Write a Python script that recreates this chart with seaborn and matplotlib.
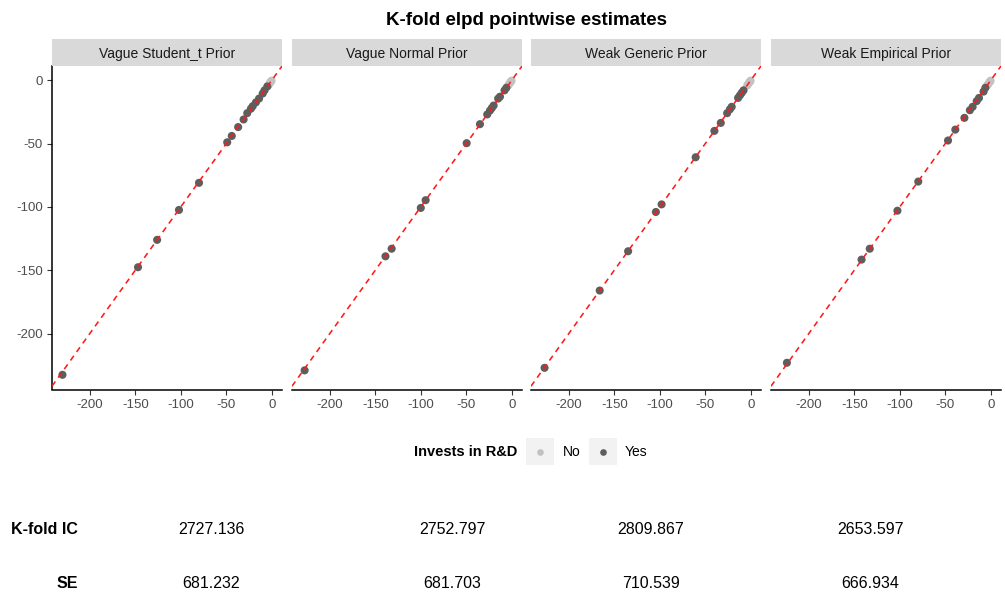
import numpy as np
import pandas as pd
import matplotlib
matplotlib.use("Agg")
import matplotlib.pyplot as plt
from matplotlib.patches import Rectangle
from matplotlib.lines import Line2D
import seaborn as sns

# ---------------- data ----------------
priors = ["Vague Student_t Prior", "Vague Normal Prior",
          "Weak Generic Prior", "Weak Empirical Prior"]

# "Yes" (invests in R&D) points: x = model elpd, y = k-fold elpd
p1_x_yes = [-230, -147, -126, -102, -80, -49, -44, -37, -31, -27, -23, -21, -17.5, -14, -10, -8, -5]
p1_y_yes = [-232.5, -147.6, -126, -102.4, -81, -49, -44, -37, -31, -26, -22.5, -20.5, -17.5, -14.5, -10.5, -8, -5]
p2_x_yes = [-227.6, -138.8, -132, -100, -94.7, -49.6, -35, -27, -24, -22, -20, -15, -13, -8, -6]
p2_y_yes = [-229, -139, -133, -100.8, -94.7, -49.7, -34.7, -27, -24, -22, -20, -14.5, -13, -8, -6]
p3_x_yes = [-226.6, -166, -134.8, -104.3, -98, -60.6, -40, -33, -26, -23, -21, -14, -12, -10, -8]
p3_y_yes = [-227, -166, -135, -104, -98, -60.8, -40, -33.7, -26, -23, -21, -14, -12, -10, -8]
p4_x_yes = [-224, -142, -133, -102.6, -79.7, -47, -39, -29, -23, -20, -15.5, -13, -8, -6]
p4_y_yes = [-223, -141.6, -133, -103, -80, -47.6, -39, -29.7, -23.7, -21, -16.5, -14, -9, -6]

# "No" points (cluster near zero)
no_x = [-4, -3, -2.2, -1.5, -0.8, -0.3]
no_y = [-4.2, -3.1, -2.3, -1.6, -0.9, -0.4]

kfold_ic = ["2727.136", "2752.797", "2809.867", "2653.597"]
kfold_se = ["681.232", "681.703", "710.539", "666.934"]
ticks = [-200, -150, -100, -50, 0]
tick_labels = ["-200", "-150", "-100", "-50", "0"]

legend_title = "Invests in R&D"
levels = ["No", "Yes"]
palette = {"No": "#c2c2c2", "Yes": "#5e5e5e"}

xs_yes = [p1_x_yes, p2_x_yes, p3_x_yes, p4_x_yes]
ys_yes = [p1_y_yes, p2_y_yes, p3_y_yes, p4_y_yes]

rows = []
for prior, xy, yy in zip(priors, xs_yes, ys_yes):
    for a, b in zip(no_x, no_y):
        rows.append((prior, a, b, "No"))
    for a, b in zip(xy, yy):
        rows.append((prior, a, b, "Yes"))
df = pd.DataFrame(rows, columns=["prior", "elpd", "kfold", "invest"])

# ---------------- figure ----------------
sns.set_theme(style="white")
plt.rcParams["font.family"] = ["Liberation Sans", "DejaVu Sans"]

W, H = 1005, 593
fig = plt.figure(figsize=(W / 100, H / 100), dpi=100)


def fx(px):
    return px / W


def fy(py):
    return 1 - py / H


# shared (fixed) scales with 5% expansion like ggplot
xmin, xmax = df["elpd"].min(), df["elpd"].max()
ymin, ymax = df["kfold"].min(), df["kfold"].max()
xpad = (xmax - xmin) * 0.05
ypad = (ymax - ymin) * 0.05

panel_left = [52, 292, 531, 771]
panel_w = 230
top, bottom = 66, 389.5
strip_top = 39

for i, prior in enumerate(priors):
    L = panel_left[i]
    ax = fig.add_axes([fx(L), fy(bottom), panel_w / W, (bottom - top) / H])
    sub = df[df["prior"] == prior]
    sns.scatterplot(data=sub, x="elpd", y="kfold", hue="invest",
                    hue_order=levels, palette=palette, s=34, linewidth=0,
                    legend=False, ax=ax, zorder=3)
    ax.axline((0, 0), slope=1, color="#ff1a1a", lw=1.15,
              linestyle=(0, (3.6, 3.0)), zorder=4)
    ax.set_xlim(xmin - xpad, xmax + xpad)
    ax.set_ylim(ymin - ypad, ymax + ypad)
    ax.set_xticks(ticks)
    ax.set_xticklabels(tick_labels)
    ax.set_yticks(ticks)
    ax.set_yticklabels(tick_labels)
    ax.set_xlabel("")
    ax.set_ylabel("")
    for s in ["top", "right"]:
        ax.spines[s].set_visible(False)
    ax.spines["bottom"].set_color("black")
    ax.spines["bottom"].set_linewidth(1.1)
    ax.spines["left"].set_color("black")
    ax.spines["left"].set_linewidth(1.1)
    ax.tick_params(axis="both", length=3.5, width=0.8, color="#333333",
                   labelcolor="#4d4d4d", labelsize=9.5, pad=3,
                   bottom=True, left=True)
    if i > 0:
        ax.spines["left"].set_visible(False)
        ax.tick_params(axis="y", left=False, labelleft=False)
    ax.grid(False)
    ax.set_facecolor("white")

    # strip
    fig.patches.append(Rectangle((fx(L), fy(top)), panel_w / W, (top - strip_top) / H,
                                 transform=fig.transFigure, facecolor="#d9d9d9",
                                 edgecolor="none", zorder=1))
    fig.text(fx(L + panel_w / 2), fy((top + strip_top) / 2), prior,
             ha="center", va="center_baseline", fontsize=10, color="#1a1a1a")

# title
fig.text(fx(526), fy(18.5), "K-fold elpd pointwise estimates", ha="center",
         va="center_baseline", fontsize=13.5, fontweight="bold", color="black")

# legend (manual, ggplot style)
ly = 451.5
fig.text(fx(517), fy(ly), legend_title, ha="right", va="center",
         fontsize=10.5, fontweight="bold", color="black")
key_x = [540, 603]
text_x = [562.5, 625]
for lev, kx, tx in zip(levels, key_x, text_x):
    fig.patches.append(Rectangle((fx(kx - 14), fy(ly + 13.5)), 28 / W, 27 / H,
                                 transform=fig.transFigure, facecolor="#f2f2f2",
                                 edgecolor="none", zorder=1))
    fig.lines.append(Line2D([fx(kx)], [fy(ly)], transform=fig.transFigure,
                            marker="o", markersize=4.8, markeredgewidth=0,
                            color=palette[lev], linestyle="none", zorder=2))
    fig.text(fx(tx), fy(ly), lev, ha="left", va="center", fontsize=10,
             color="black")

# table
col_x = [211, 452, 651, 870]
row_y = [529, 583]
fig.text(fx(78), fy(row_y[0]), "K-fold IC", ha="right", va="center",
         fontsize=11.5, fontweight="bold", color="black")
fig.text(fx(78), fy(row_y[1]), "SE", ha="right", va="center",
         fontsize=11.5, fontweight="bold", color="black")
for cx, ic, se in zip(col_x, kfold_ic, kfold_se):
    fig.text(fx(cx), fy(row_y[0]), ic, ha="center", va="center",
             fontsize=11.5, color="black")
    fig.text(fx(cx), fy(row_y[1]), se, ha="center", va="center",
             fontsize=11.5, color="black")

fig.savefig("out.png", dpi=100, facecolor="white")
